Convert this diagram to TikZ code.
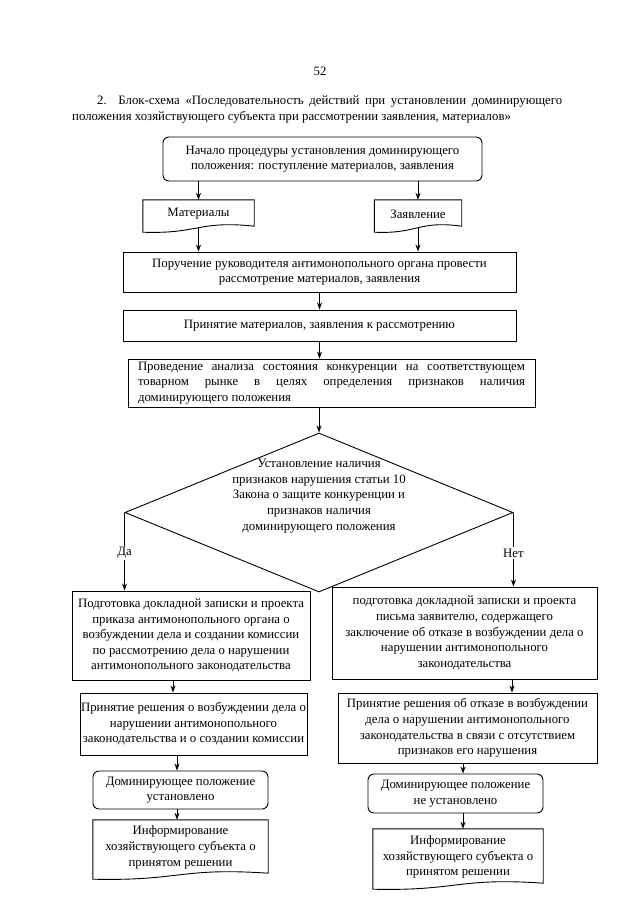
\documentclass[tikz,border=0pt]{standalone}
\usepackage{fontspec}
\setmainfont{Liberation Serif}
\usetikzlibrary{calc,arrows.meta,shapes.geometric}
\newcommand\docshape[1]{\draw[ln] (#1.north west) -- (#1.north east) -- ($(#1.south east)+(0,-2)$) .. controls ($(#1.south)+(0,-8)$) and ($(#1.south)+(0,6)$) .. ($(#1.south west)+(0,4)$) -- cycle;}
\begin{document}
\begin{tikzpicture}[x=1pt,y=-1pt,
  every node/.style={font=\fontsize{12.8}{15.6}\selectfont},
  ln/.style={line width=0.9pt},
  box/.style={draw, ln, align=center, inner sep=0pt},
  rbox/.style={box, rounded corners=6pt},
  doc/.style={align=center, inner sep=0pt},
  arr/.style={-{Stealth[length=7pt,width=5pt]}, ln},
  lbl/.style={fill=white, inner sep=1.5pt}]
\fill[white] (0,0) rectangle (640,905);
\useasboundingbox (0,0) rectangle (640,905);

% heading
\node[inner sep=0pt] (pg) at (320,71) {52};
\node[anchor=west, inner sep=0pt] (h1) at (97,101) {\makebox[465pt][s]{2. Блок-схема «Последовательность действий при установлении доминирующего}};
\node[anchor=west, inner sep=0pt] (h2) at (72,117) {положения хозяйствующего субъекта при рассмотрении заявления, материалов»};

% top
\node[rbox, minimum width=319pt, minimum height=44pt] (start) at (322.5,159) {Начало процедуры установления доминирующего\\положения: поступление материалов, заявления};
\node[doc, minimum width=111pt, minimum height=28pt] (mat) at (198.5,214) {Материалы};
\docshape{mat}
\node[doc, minimum width=87pt, minimum height=28pt] (zay) at (418,214) {Заявление};
\docshape{zay}

\node[box, minimum width=393pt, minimum height=40pt] (por) at (319.5,272) {Поручение руководителя антимонопольного органа провести\\рассмотрение материалов, заявления};
\node[box, minimum width=393pt, minimum height=31pt] (prin) at (319.5,325.5) {Принятие материалов, заявления к рассмотрению};
\node[box, minimum width=407pt, minimum height=48pt, align=left] (prov) at (331.5,383) {\makebox[387pt][s]{Проведение анализа состояния конкуренции на соответствующем}\\\makebox[387pt][s]{товарном рынке в целях определения признаков наличия}\\доминирующего положения};

% decision
\node[draw, ln, diamond, minimum width=388pt, minimum height=159pt, inner sep=0pt] (dia) at (319,512.5) {};
\node[align=center, inner sep=0pt] (dtext) at (319,496) {Установление наличия\\признаков нарушения статьи 10\\Закона о защите конкуренции и\\признаков наличия\\доминирующего положения};

% left branch
\node[box, minimum width=238pt, minimum height=89pt] (lb1) at (191,635.5) {Подготовка докладной записки и проекта\\приказа антимонопольного органа о\\возбуждении дела и создании комиссии\\по рассмотрению дела о нарушении\\антимонопольного законодательства};
\node[box, minimum width=227pt, minimum height=62pt] (lb2) at (193.5,724) {Принятие решения о возбуждении дела о\\нарушении антимонопольного\\законодательства и о создании комиссии};
\node[rbox, minimum width=175pt, minimum height=38pt] (lr) at (180.5,790) {Доминирующее положение\\установлено};
\node[doc, minimum width=175pt, minimum height=55pt] (ld) at (180.5,847.5) {Информирование\\хозяйствующего субъекта о\\принятом решении};
\docshape{ld}

% right branch
\node[box, minimum width=265pt, minimum height=92pt] (rb1) at (464.5,633) {подготовка докладной записки и проекта\\письма заявителю, содержащего\\заключение об отказе в возбуждении дела о\\нарушении антимонопольного\\законодательства};
\node[box, minimum width=259pt, minimum height=70pt] (rb2) at (467.5,728) {Принятие решения об отказе в возбуждении\\дела о нарушении антимонопольного\\законодательства в связи с отсутствием\\признаков его нарушения};
\node[rbox, minimum width=175pt, minimum height=39pt] (rr) at (455.5,793.5) {Доминирующее положение\\не установлено};
\node[doc, minimum width=170pt, minimum height=56pt] (rd) at (458,857) {Информирование\\хозяйствующего субъекта о\\принятом решении};
\docshape{rd}

% connectors
\coordinate (xl1) at (173,0);
\coordinate (xl2) at (177,0);
\coordinate (xr1) at (512,0);
\coordinate (xr2) at (463,0);
\draw[arr] (start.south -| mat) -- (mat.north);
\draw[arr] (start.south -| zay) -- (zay.north);
\draw[arr] (mat.south) -- (mat |- por.north);
\draw[arr] (zay.south) -- (zay |- por.north);
\draw[arr] (por.south) -- (prin.north);
\draw[arr] (prin.south) -- (prin.south |- prov.north);
\draw[arr] (prov.south -| dia.north) -- (dia.north);
\draw[arr] (dia.west) -- node[lbl, pos=0.52] {Да} (dia.west |- lb1.north);
\draw[arr] (dia.east) -- node[lbl, pos=0.55] {Нет} (dia.east |- rb1.north);
\draw[arr] (xl1 |- lb1.south) -- (xl1 |- lb2.north);
\draw[arr] (xl2 |- lb2.south) -- (xl2 |- lr.north);
\draw[arr] (xl2 |- lr.south) -- (xl2 |- ld.north);
\draw[arr] (xr1 |- rb1.south) -- (xr1 |- rb2.north);
\draw[arr] (xr2 |- rb2.south) -- (xr2 |- rr.north);
\draw[arr] (xr2 |- rr.south) -- (xr2 |- rd.north);
\end{tikzpicture}
\end{document}
